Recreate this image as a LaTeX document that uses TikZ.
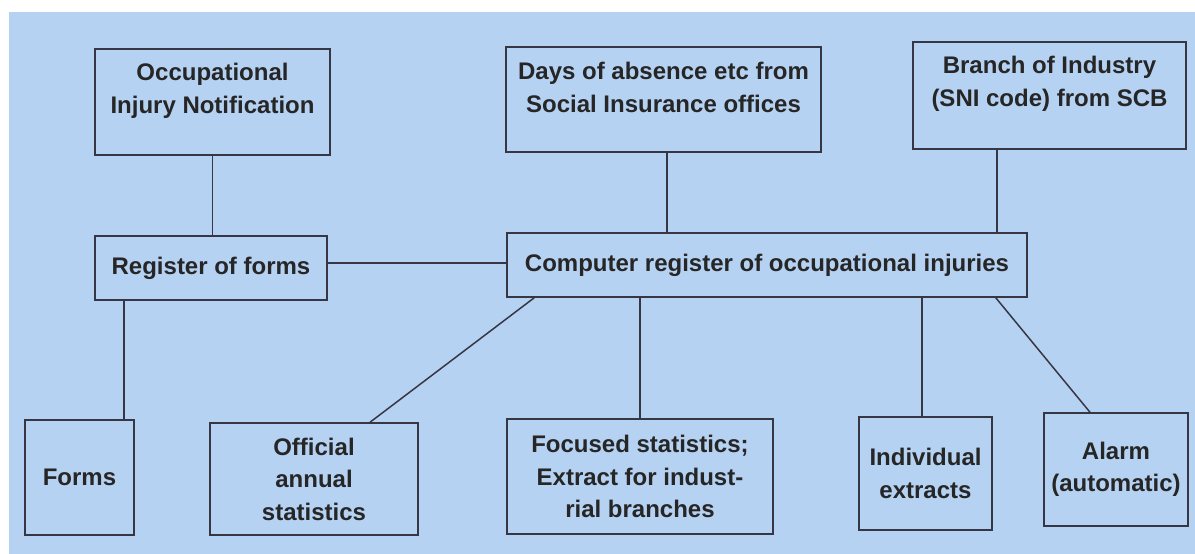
\documentclass[tikz,border=0pt]{standalone}
\usepackage{fontspec}
\setmainfont{Liberation Sans}
\usetikzlibrary{positioning}
\usepackage{xcolor}
\definecolor{paperblue}{RGB}{182,210,242}
\definecolor{inkgray}{RGB}{55,55,68}

\begin{document}
\begin{tikzpicture}[x=1pt, y=-1pt, box/.style={rectangle, draw=inkgray, line width=1.5pt, align=center, font=\bfseries\fontsize{24}{32.5}\selectfont, text=black!85, inner sep=0pt}, boxtext/.style={align=center, font=\bfseries\fontsize{24}{32.5}\selectfont, text=black!85}, link/.style={draw=inkgray, line width=1.5pt}]
	\useasboundingbox (0,0) rectangle (1195,554);
	\fill[paperblue] (9,12) rectangle (1195,554);
	% sources
	\node[box, minimum width=235, minimum height=106, label={[boxtext, yshift=11pt]center:Occupational\\Injury Notification}] (occ) at (212.5,102) {};
	\node[box, minimum width=315, minimum height=105, label={[boxtext, yshift=12pt]center:Days of absence etc from\\Social Insurance offices}] (days) at (663.5,99.5) {};
	\node[box, minimum width=273, minimum height=107, label={[boxtext, yshift=11.5pt]center:Branch of Industry\\(SNI code) from SCB}] (branch) at (1049.5,95.5) {};
	% registers
	\node[box, minimum width=232, minimum height=64] (reg) at (211,268) {Register of forms};
	\node[box, minimum width=520, minimum height=64] (comp) at (767,265) {Computer register of occupational injuries};
	% outputs
	\node[box, minimum width=109, minimum height=115] (forms) at (79.5,477.5) {Forms};
	\node[box, minimum width=208, minimum height=112] (official) at (314,479) {Official\\annual\\statistics};
	\node[box, minimum width=266, minimum height=115] (focused) at (640,476.5) {Focused statistics;\\Extract for indust-\\rial branches};
	\node[box, minimum width=133, minimum height=113] (indiv) at (925.5,473.5) {Individual\\extracts};
	\node[box, minimum width=144, minimum height=113] (alarm) at (1116,469.5) {Alarm\\(automatic)};
	% links
	\path[link] (occ.south) -- (occ.south |- reg.north);
	\path[link] ([xshift=3.5pt]days.south) -- ([xshift=3.5pt]days.south |- comp.north);
	\path[link] ([xshift=-52.5pt]branch.south) -- ([xshift=-52.5pt]branch.south |- comp.north);
	\path[link] ([yshift=5pt]reg.east) -- ([yshift=5pt]reg.east -| comp.west);
	\path[link] ([xshift=-87pt]reg.south) -- ([xshift=-87pt]reg.south |- forms.north);
	\path[link] ([xshift=28pt]comp.south west) -- ([xshift=56pt]official.north);
	\path[link] (focused.north) -- (focused.north |- comp.south);
	\path[link] ([xshift=-3.5pt]indiv.north) -- ([xshift=-3.5pt]indiv.north |- comp.south);
	\path[link] ([xshift=-32pt]comp.south east) -- ([xshift=-26pt]alarm.north);
\end{tikzpicture}
\end{document}
